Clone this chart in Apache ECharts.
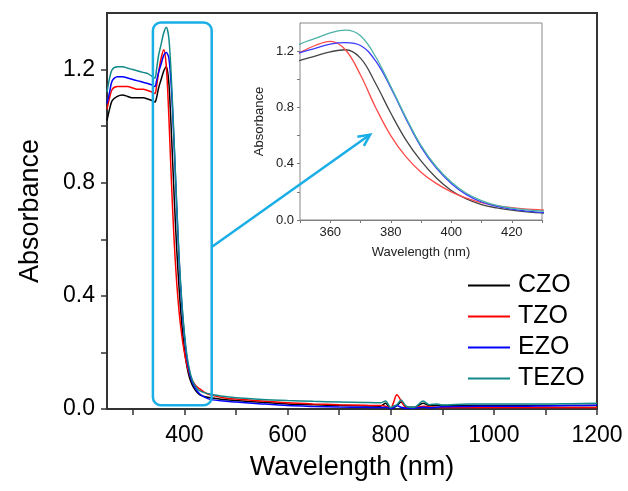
<!DOCTYPE html>
<html>
<head>
<meta charset="utf-8">
<script src="https://cdn.jsdelivr.net/npm/echarts@6/dist/echarts.min.js"></script>
<style>
  html, body { margin: 0; padding: 0; background: #fff; }
  #chart { width: 628px; height: 491px; }
</style>
</head>
<body>
<div id="chart"></div>
<script>
// wavelength (nm), shared by all four spectra
var wavelength = [250, 255, 260, 270, 280, 290, 300, 310, 320, 330, 338, 343, 346, 350, 355, 360, 365, 370, 375, 380,
  385, 390, 395, 400, 405, 410, 415, 420, 425, 430, 440, 450, 475, 500, 550, 600, 650, 700, 750, 780,
  790, 800, 805, 812, 820, 830, 845, 863, 875, 890, 900, 950, 1000, 1050, 1100, 1150, 1200];

var czo = [1.02, 1.06, 1.09, 1.105, 1.11, 1.105, 1.1, 1.1, 1.1, 1.095, 1.09, 1.085, 1.1, 1.135, 1.165, 1.195, 1.21, 1.15, 0.97, 0.76,
  0.57, 0.42, 0.3, 0.21, 0.15, 0.11, 0.086, 0.07, 0.058, 0.05, 0.043, 0.04, 0.034, 0.03, 0.024, 0.018, 0.015, 0.012, 0.011, 0.01,
  0.02, 0.002, 0.005, 0.012, 0.025, 0.008, 0.006, 0.02, 0.012, 0.013, 0.012, 0.012, 0.012, 0.012, 0.012, 0.012, 0.012];

var tzo = [1.06, 1.1, 1.13, 1.14, 1.14, 1.14, 1.135, 1.13, 1.13, 1.125, 1.12, 1.115, 1.14, 1.19, 1.24, 1.27, 1.21, 1.03, 0.8, 0.6,
  0.45, 0.34, 0.26, 0.2, 0.155, 0.123, 0.102, 0.088, 0.078, 0.071, 0.058, 0.05, 0.04, 0.035, 0.028, 0.022, 0.018, 0.015, 0.013, 0.012,
  0.01, 0.003, 0.02, 0.05, 0.03, 0.005, 0.004, 0.01, 0.008, 0.006, 0.005, 0.005, 0.005, 0.005, 0.005, 0.005, 0.005];

var ezo = [1.08, 1.12, 1.16, 1.175, 1.175, 1.17, 1.165, 1.16, 1.155, 1.15, 1.145, 1.14, 1.16, 1.19, 1.22, 1.25, 1.26, 1.24, 1.13, 0.94,
  0.72, 0.52, 0.37, 0.26, 0.18, 0.128, 0.097, 0.077, 0.063, 0.053, 0.041, 0.034, 0.028, 0.025, 0.018, 0.012, 0.009, 0.007, 0.006, 0.005,
  0.006, 0.002, 0.004, 0.012, 0.006, 0.003, 0.003, 0.006, 0.004, 0.006, 0.008, 0.009, 0.01, 0.01, 0.011, 0.012, 0.013];

var tezo = [1.12, 1.17, 1.2, 1.21, 1.21, 1.205, 1.2, 1.195, 1.19, 1.185, 1.175, 1.17, 1.2, 1.25, 1.29, 1.33, 1.35, 1.31, 1.16, 0.95,
  0.73, 0.53, 0.38, 0.27, 0.19, 0.138, 0.104, 0.084, 0.072, 0.064, 0.057, 0.053, 0.045, 0.04, 0.034, 0.03, 0.027, 0.025, 0.023, 0.022,
  0.028, 0.005, 0.01, 0.015, 0.032, 0.01, 0.005, 0.028, 0.015, 0.018, 0.014, 0.018, 0.018, 0.018, 0.018, 0.019, 0.02];

var seriesNames = ["CZO", "TZO", "EZO", "TEZO"];
var seriesValues = [czo, tzo, ezo, tezo];
var mainColors = ["#000000", "#ff0000", "#0000ff", "#138a8a"];
var insetColors = ["#444444", "#ff4a4a", "#3a3aff", "#4cb2a8"];

// tick labels
var mainXTicks = [300, 400, 500, 600, 700, 800, 900, 1000, 1100, 1200];
var mainXLabels = [400, 600, 800, 1000, 1200];
var mainYTicks = [0, 0.2, 0.4, 0.6, 0.8, 1.0, 1.2];
var mainYLabels = [0, 0.4, 0.8, 1.2];
var insetXTicks = [350, 360, 370, 380, 390, 400, 410, 420, 430];
var insetXLabels = [360, 380, 400, 420];
var insetYTicks = [0, 0.2, 0.4, 0.6, 0.8, 1.0, 1.2];
var insetYLabels = [0, 0.4, 0.8, 1.2];

// zoom box (nm / absorbance) and arrow ends
var boxRange = { x: [339, 453], y: [0.013, 1.366] };
var arrowFrom = [453, 0.573]; // main grid
var arrowTo = [373.2, 0.607]; // inset grid

var FONT = "Liberation Sans, Arial, sans-serif";

function pairs(vals) {
  return wavelength.map(function (w, i) {
    return [w, vals[i]];
  });
}

function plain(v) {
  return String(v);
}

function oneDecimal(v) {
  return v.toFixed(1);
}

var series = [];
seriesNames.forEach(function (name, i) {
  series.push({
    name: name,
    type: "line",
    xAxisIndex: 0,
    yAxisIndex: 0,
    data: pairs(seriesValues[i]),
    smooth: 0.3,
    showSymbol: false,
    symbol: "none",
    color: mainColors[i],
    lineStyle: { width: 1.5, color: mainColors[i] },
    z: 3,
  });
});
seriesNames.forEach(function (name, i) {
  series.push({
    name: name,
    type: "line",
    xAxisIndex: 1,
    yAxisIndex: 1,
    data: pairs(seriesValues[i]),
    smooth: 0.4,
    showSymbol: false,
    symbol: "none",
    clip: true,
    color: insetColors[i],
    lineStyle: { width: 1.3, color: insetColors[i] },
    z: 6,
  });
});

var option = {
  animation: false,
  backgroundColor: "#fff",
  textStyle: { fontFamily: FONT },
  grid: [
    {
      left: 107,
      right: 31,
      top: 13,
      bottom: 82,
      show: true,
      borderColor: "#333",
      borderWidth: 2,
      z: 1,
    },
    {
      left: 300,
      right: 86,
      top: 23,
      bottom: 271,
      show: true,
      backgroundColor: "#fff",
      borderColor: "#888",
      borderWidth: 1,
      z: 5,
    },
  ],
  legend: {
    data: seriesNames,
    orient: "vertical",
    left: 463,
    top: 268,
    icon: "rect",
    itemWidth: 42,
    itemHeight: 2,
    itemGap: 6,
    textStyle: { fontSize: 25, lineHeight: 25, color: "#000", fontFamily: FONT, padding: [0, 0, 0, 3] },
  },
  xAxis: [
    {
      gridIndex: 0,
      type: "value",
      min: 250,
      max: 1200,
      name: "Wavelength (nm)",
      nameLocation: "middle",
      nameGap: 45,
      nameTextStyle: { fontSize: 27, color: "#000" },
      axisLine: { lineStyle: { color: "#333", width: 2 } },
      axisTick: { inside: false, length: 6, customValues: mainXTicks, lineStyle: { color: "#333", width: 1.5 } },
      axisLabel: { customValues: mainXLabels, fontSize: 23, color: "#000", margin: 15, formatter: plain },
      splitLine: { show: false },
    },
    {
      gridIndex: 1,
      type: "value",
      min: 350,
      max: 430,
      name: "Wavelength (nm)",
      nameLocation: "middle",
      nameGap: 26,
      nameTextStyle: { fontSize: 13, color: "#222" },
      axisLine: { lineStyle: { color: "#777", width: 1 } },
      axisTick: { length: 3, customValues: insetXTicks, lineStyle: { color: "#777" } },
      axisLabel: { customValues: insetXLabels, fontSize: 13, color: "#222", margin: 6, formatter: plain },
      splitLine: { show: false },
    },
  ],
  yAxis: [
    {
      gridIndex: 0,
      type: "value",
      min: 0,
      max: 1.4,
      name: "Absorbance",
      nameLocation: "middle",
      nameGap: 63,
      nameTextStyle: { fontSize: 27, color: "#000" },
      axisLine: { show: true, lineStyle: { color: "#333", width: 2 } },
      axisTick: { show: true, length: 6, customValues: mainYTicks, lineStyle: { color: "#333", width: 1.5 } },
      axisLabel: { customValues: mainYLabels, fontSize: 23, color: "#000", margin: 12, formatter: oneDecimal },
      splitLine: { show: false },
    },
    {
      gridIndex: 1,
      type: "value",
      min: 0,
      max: 1.4,
      name: "Absorbance",
      nameLocation: "middle",
      nameGap: 34,
      nameTextStyle: { fontSize: 13, color: "#222" },
      axisLine: { show: true, lineStyle: { color: "#777", width: 1 } },
      axisTick: { show: true, length: 3, customValues: insetYTicks, lineStyle: { color: "#777" } },
      axisLabel: { customValues: insetYLabels, fontSize: 13, color: "#222", margin: 6, formatter: oneDecimal },
      splitLine: { show: false },
    },
  ],
  series: series,
};

var chart = echarts.init(document.getElementById("chart"), null, { renderer: "canvas" });
chart.setOption(option);

// zoom box and arrow, placed from data coordinates
var p0 = chart.convertToPixel({ gridIndex: 0 }, [boxRange.x[0], boxRange.y[1]]);
var p1 = chart.convertToPixel({ gridIndex: 0 }, [boxRange.x[1], boxRange.y[0]]);
var a0 = chart.convertToPixel({ gridIndex: 0 }, arrowFrom);
var a1 = chart.convertToPixel({ gridIndex: 1 }, arrowTo);
var ang = Math.atan2(a1[1] - a0[1], a1[0] - a0[0]);
var headLen = 13;
var headSpread = 0.45;
var cyan = "#1aaee6";

chart.setOption({
  graphic: [
    {
      type: "rect",
      shape: { x: p0[0], y: p0[1], width: p1[0] - p0[0], height: p1[1] - p0[1], r: 8 },
      style: { fill: null, stroke: cyan, lineWidth: 2.5 },
      z: 10,
    },
    {
      type: "line",
      shape: { x1: a0[0], y1: a0[1], x2: a1[0], y2: a1[1] },
      style: { stroke: cyan, lineWidth: 2.5 },
      z: 10,
    },
    {
      type: "polyline",
      shape: {
        points: [
          [a1[0] - headLen * Math.cos(ang - headSpread), a1[1] - headLen * Math.sin(ang - headSpread)],
          [a1[0], a1[1]],
          [a1[0] - headLen * Math.cos(ang + headSpread), a1[1] - headLen * Math.sin(ang + headSpread)],
        ],
      },
      style: { fill: null, stroke: cyan, lineWidth: 2.5 },
      z: 10,
    },
  ],
});
</script>
</body>
</html>
